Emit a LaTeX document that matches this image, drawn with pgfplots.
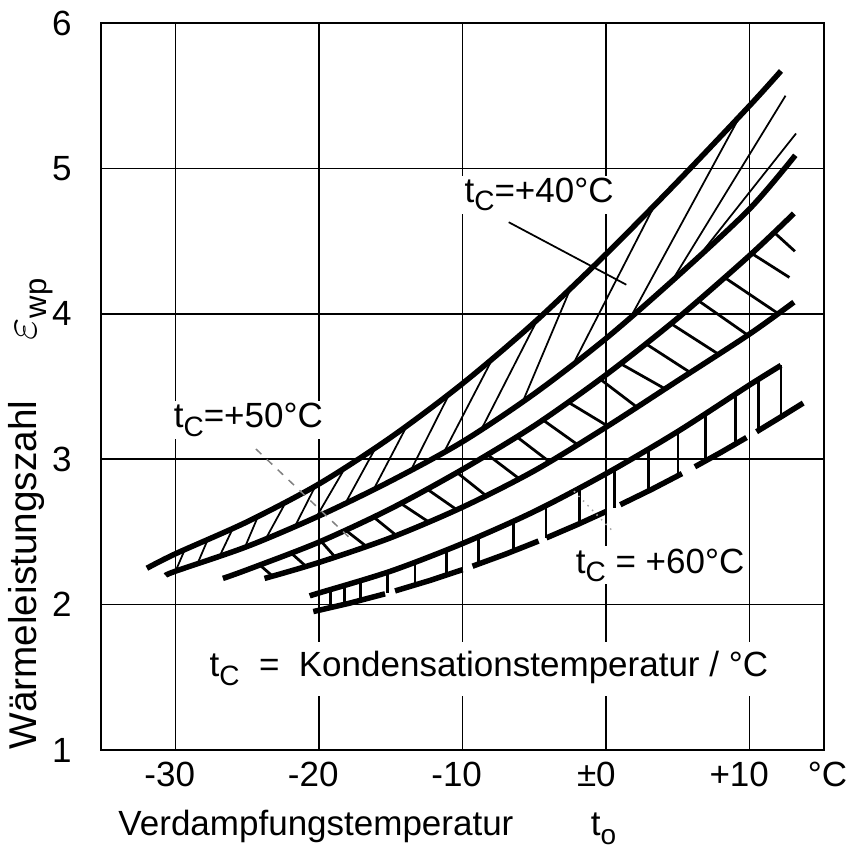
\documentclass[border=0pt]{standalone}
\usepackage{fontspec}
\setmainfont{Liberation Sans}
\usepackage{graphicx}
\usepackage{pgfplots}
\pgfplotsset{compat=1.18}
\newcommand\sub[1]{\raisebox{-0.45ex}{\scalebox{0.8}{#1}}}
\begin{document}
\fontsize{14}{16}\selectfont
\begin{tikzpicture}[line cap=round]
\useasboundingbox (-40.4pt,-39.2pt) rectangle (302.8pt,300pt);
\begin{axis}[
  at={(0,0)}, anchor=south west,
  scale only axis, width=289.2pt, height=290.8pt,
  xmin=-35.2, xmax=15.2, ymin=1, ymax=6,
  xtick={-30,-20,-10,0,10},
  xticklabels={\llap{-}30,\llap{-}20,\llap{-}10,\llap{±}0,\llap{+}10},
  ytick={1,2,3,4,5,6},
  major tick length=0pt,
  grid=major,
  grid style={black, line width=0.7pt},
  axis line style={line width=0.8pt},
  /pgf/number format/assume math mode=true,
  yticklabel style={xshift=-6.9pt},
  clip=false,
  unbounded coords=jump,
]
% t_C = 40 band
\addplot[black, line width=2.2pt, smooth] coordinates {(-32,2.25) (-30,2.35) (-25,2.57) (-20,2.83) (-15,3.15) (-10,3.52) (-5,3.94) (0,4.41) (5,4.91) (10,5.43) (12.2,5.67)};
\addplot[black, line width=2.2pt, smooth] coordinates {(-30.7,2.20) (-30,2.23) (-25,2.40) (-20,2.61) (-15,2.85) (-10,3.12) (-5,3.45) (0,3.83) (5,4.26) (10,4.72) (13.2,5.09)};
\addplot[black, line width=0.7pt] coordinates {
(-30.0,2.23) (-29.36,2.378) (nan,nan)
(-28.47,2.282) (-27.75,2.449) (nan,nan)
(-26.92,2.335) (-26.0,2.526) (nan,nan)
(-25.17,2.394) (-24.24,2.61) (nan,nan)
(-23.7,2.455) (-22.28,2.711) (nan,nan)
(-21.67,2.54) (-20.24,2.818) (nan,nan)
(-20.19,2.602) (-18.13,2.95) (nan,nan)
(-18.16,2.698) (-16.02,3.085) (nan,nan)
(-16.19,2.793) (-13.84,3.236) (nan,nan)
(-13.59,2.926) (-10.89,3.454) (nan,nan)
(-11.28,3.051) (-7.86,3.70) (nan,nan)
(-8.67,3.208) (-4.76,3.963) (nan,nan)
(-5.79,3.398) (-2.44,4.181) (nan,nan)
(-2.27,3.657) (3.42,4.752) (nan,nan)
(1.74,3.98) (9.36,5.363) (nan,nan)
(4.6,4.226) (12.52,5.50) (nan,nan)
(6.46,4.394) (13.25,5.24)};
% t_C = 50 band
\addplot[black, line width=2.2pt, smooth] coordinates {(-26.7,2.18) (-25,2.24) (-20,2.43) (-15,2.66) (-10,2.93) (-5,3.23) (0,3.58) (5,3.97) (10,4.40) (13.1,4.69)};
\addplot[black, line width=2.2pt, smooth] coordinates {(-23.8,2.18) (-20,2.29) (-15,2.46) (-10,2.67) (-5,2.92) (0,3.22) (5,3.54) (10,3.86) (13.1,4.08)};
\addplot[black, line width=1.1pt] coordinates {
(-24.14,2.273) (-23.24,2.196) (nan,nan)
(-21.96,2.356) (-20.92,2.264) (nan,nan)
(-19.86,2.436) (-18.89,2.328) (nan,nan)
(-18.18,2.514) (-16.72,2.402) (nan,nan)
(-16.22,2.604) (-14.62,2.476) (nan,nan)
(-14.32,2.697) (-12.38,2.57) (nan,nan)
(-12.49,2.796) (-10.41,2.653) (nan,nan)
(-10.39,2.909) (-8.38,2.751) (nan,nan)
(-8.28,3.033) (-6.06,2.867) (nan,nan)
(-6.24,3.156) (-3.95,2.983) (nan,nan)
(-4.41,3.271) (-1.99,3.101) (nan,nan)
(-2.66,3.394) (0.12,3.228) (nan,nan)
(-0.41,3.551) (2.16,3.358) (nan,nan)
(1.0,3.658) (4.12,3.484) (nan,nan)
(2.76,3.795) (5.88,3.596) (nan,nan)
(4.52,3.933) (7.85,3.722) (nan,nan)
(6.42,4.092) (9.89,3.853) (nan,nan)
(8.26,4.25) (12.0,4.002) (nan,nan)
(10.16,4.415) (12.79,4.25) (nan,nan)
(11.71,4.561) (13.17,4.43)};
% t_C = 60 band
\addplot[black, line width=2.2pt, smooth] coordinates {(-20.65,2.06) (-20,2.08) (-15,2.23) (-10,2.42) (-5,2.64) (0,2.90) (5,3.19) (10,3.51) (12.2,3.645)};
\addplot[black, line width=2.2pt] coordinates {
(-20.4,1.952) (-17.9,2.009) (-15.4,2.074) (nan,nan)
(-14.7,2.094) (-12.3,2.165) (-10.0,2.24) (nan,nan)
(-9.3,2.264) (-7.0,2.347) (-4.7,2.437) (nan,nan)
(-4.15,2.459) (-2.0,2.550) (0,2.64) (nan,nan)
(1.0,2.687) (3.2,2.793) (5.3,2.901) (nan,nan)
(6.2,2.948) (8.0,3.046) (9.8,3.149) (nan,nan)
(10.5,3.189) (12.1,3.285) (13.75,3.386)};
\addplot[black, line width=1.1pt] coordinates {
(-19.2,2.104) (-19.2,1.978) (nan,nan)
(-18.2,2.134) (-18.2,2.002) (nan,nan)
(-17.1,2.167) (-17.1,2.028) (nan,nan)
(-15.21,2.224) (-15.21,2.079) (nan,nan)
(-13.31,2.294) (-13.31,2.134) (nan,nan)
(-11.13,2.377) (-11.13,2.202) (nan,nan)
(-8.88,2.469) (-8.88,2.279) (nan,nan)
(-6.43,2.577) (-6.43,2.369) (nan,nan)
(-4.18,2.683) (-4.18,2.458) (nan,nan)
(-1.86,2.803) (-1.86,2.556) (nan,nan)
(0.59,2.934) (0.59,2.667) (nan,nan)
(2.98,3.073) (2.98,2.782) (nan,nan)
(5.02,3.191) (5.02,2.886) (nan,nan)
(6.92,3.313) (6.92,2.987) (nan,nan)
(9.02,3.447) (9.02,3.104) (nan,nan)
(10.64,3.548) (10.64,3.197) (nan,nan)
(12.2,3.645) (12.2,3.29)};
% leader lines
\addplot[black, line width=0.7pt] coordinates {(-6.78,4.63) (1.42,4.20)};
\addplot[gray, line width=0.6pt, dashed] coordinates {(-24.4,3.07) (-17.77,2.45)};
\addplot[gray!70, line width=0.6pt, dotted] coordinates {(-2.23,2.78) (0.52,2.50)};
% labels
\node[fill=white, inner sep=1pt] at (axis cs:-4.66,4.82) {t\sub{C}=+40°C};
\node[fill=white, inner sep=1pt] at (axis cs:-24.93,3.27) {t\sub{C}=+50°C};
\node[fill=white, inner sep=1pt] at (axis cs:3.78,2.27) {t\sub{C} = +60°C};
\node[fill=white, inner sep=4pt] at (axis cs:-8.16,1.56) {t\sub{C} \ = \ Kondensationstemperatur / °C};
\node[anchor=north, inner sep=0.333em] at (axis cs:15.45,1) {°C};
\node[rotate=90, anchor=base west, inner sep=0pt] at ([xshift=-25.6pt]rel axis cs:0,0) {\fontsize{15.5}{17}\selectfont Wärmeleistungszahl\hspace{24pt}\scalebox{1.35}{$\varepsilon$}\sub{wp}};
\node[anchor=base west, inner sep=0pt] at ([xshift=6.8pt, yshift=-34.4pt]rel axis cs:0,0) {Verdampfungstemperatur\hspace{31pt}t\sub{o}};
\end{axis}
\end{tikzpicture}
\end{document}
